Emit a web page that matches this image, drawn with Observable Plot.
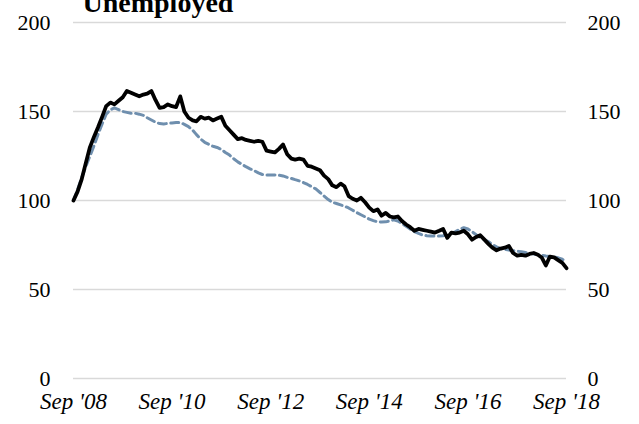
<!DOCTYPE html>
<html>
<head>
<meta charset="utf-8">
<script src="https://cdn.jsdelivr.net/npm/d3@7"></script>
<script src="https://cdn.jsdelivr.net/npm/@observablehq/plot@0.6"></script>
<style>
  html, body { margin: 0; padding: 0; background: #fff; }
  #chart svg { display: block; }
  #chart svg text { font-family: "Liberation Serif", serif !important; }
</style>
</head>
<body>
<div id="chart"></div>
<script>
const title = "Unemployed";
const startMonth = "2008-09-01";
const seriesSolid = [100,105,112,121,130,136,141,147,153,155,154,156,158,161.5,160.5,159.5,158.5,159.5,160,161.5,
  156.5,152,152.5,154,153,152.5,158.5,150,146.5,145,144.5,147,146,146.5,145,146,147,142,139.5,137,
  134.5,135,134,133.5,133,133.5,133,128,127.5,127,129,131.5,126,123.5,123,123.5,123,119.5,119,118,
  117,114,112,108.5,107.5,109.5,108,102.5,101,100,101.5,99,96,94,95,91.5,93,91,90.5,91,
  88.5,86.5,85,83,84,83.5,83,82.5,82,83,84,79,82,81.5,82,83,81,78,79.5,80.5,
  78,75.5,73.5,72,73,73.5,74.5,70.5,69,69.5,69,70,70.5,69.5,68,63.5,68.5,68,66.5,65,62];
const seriesDashed = [100,106,113,119,125,131,137,143,148.5,151,152,151,150,149.5,149,149,148.5,147.8,146.5,145.2,
  144,143.2,143,143.3,143.6,143.8,143.8,142.8,141.5,139.5,137,134.5,132.7,131.5,130.5,129.8,128.7,127,125.5,123.5,
  121.7,120.3,119,117.8,116.8,115.5,114.6,114.3,114.3,114.3,114.2,113.8,113,112.4,111.7,111,110.1,109,107.8,106.5,
  104.5,102.5,100.5,99,98.3,97.5,96.8,95.8,94.5,93.2,92,90.8,89.5,88.7,88,87.9,88,88.5,89.2,88.5,
  87,85.5,84,82.5,81.5,80.6,80.2,80,80,80,80.2,80.8,81.5,82.5,83.8,84.7,84,82.5,80.8,79.3,
  78,76.8,75.2,74,73,72.5,72.2,71.8,71.5,71.2,70.8,70.3,70,69.6,69.2,68.8,68.5,68.2,67.8,67,65.5];
const yTicks = [0, 50, 100, 150, 200];
const xTickLabels = ["2008-09-01","2010-09-01","2012-09-01","2014-09-01","2016-09-01","2018-09-01"];

const start = new Date(startMonth + "T00:00:00Z");
const solid = seriesSolid.map((v, i) => ({date: d3.utcMonth.offset(start, i), value: v}));
const dashed = seriesDashed.map((v, i) => ({date: d3.utcMonth.offset(start, i), value: v}));
const xTicks = xTickLabels.map(s => new Date(s + "T00:00:00Z"));
const fmt = d3.utcFormat("%b '%y");

const serif = "Liberation Serif";

const chart = Plot.plot({
  width: 639,
  height: 424,
  marginLeft: 73,
  marginRight: 73,
  marginTop: 22,
  marginBottom: 46,
  style: {fontFamily: serif, fontSize: "22px", color: "#000", background: "#fff"},
  x: {type: "utc", domain: [xTicks[0], xTicks[xTicks.length - 1]]},
  y: {domain: [0, 200]},
  marks: [
    Plot.gridY(yTicks, {stroke: "#d9d9d9", strokeOpacity: 1, strokeWidth: 1.5}),
    Plot.axisY(yTicks, {anchor: "left", tickSize: 0, tickPadding: 23, label: null, fontSize: 22, fontFamily: serif}),
    Plot.axisY(yTicks, {anchor: "right", tickSize: 0, tickPadding: 21, label: null, fontSize: 22, fontFamily: serif}),
    Plot.axisX(xTicks, {tickSize: 0, tickPadding: 14, label: null, tickFormat: fmt, fontSize: 23, fontStyle: "italic", fontFamily: serif}),
    Plot.line(dashed, {x: "date", y: "value", stroke: "#6f8fae", strokeWidth: 3, strokeDasharray: "8,4.5"}),
    Plot.line(solid, {x: "date", y: "value", stroke: "#000", strokeWidth: 3.8, strokeLinejoin: "round"}),
    Plot.text([title], {frameAnchor: "top-left", dx: 9, dy: -11, text: d => d, fontSize: 28, fontWeight: "bold", fontFamily: serif, textAnchor: "start", lineAnchor: "bottom"})
  ]
});
document.getElementById("chart").appendChild(chart);
</script>
</body>
</html>
